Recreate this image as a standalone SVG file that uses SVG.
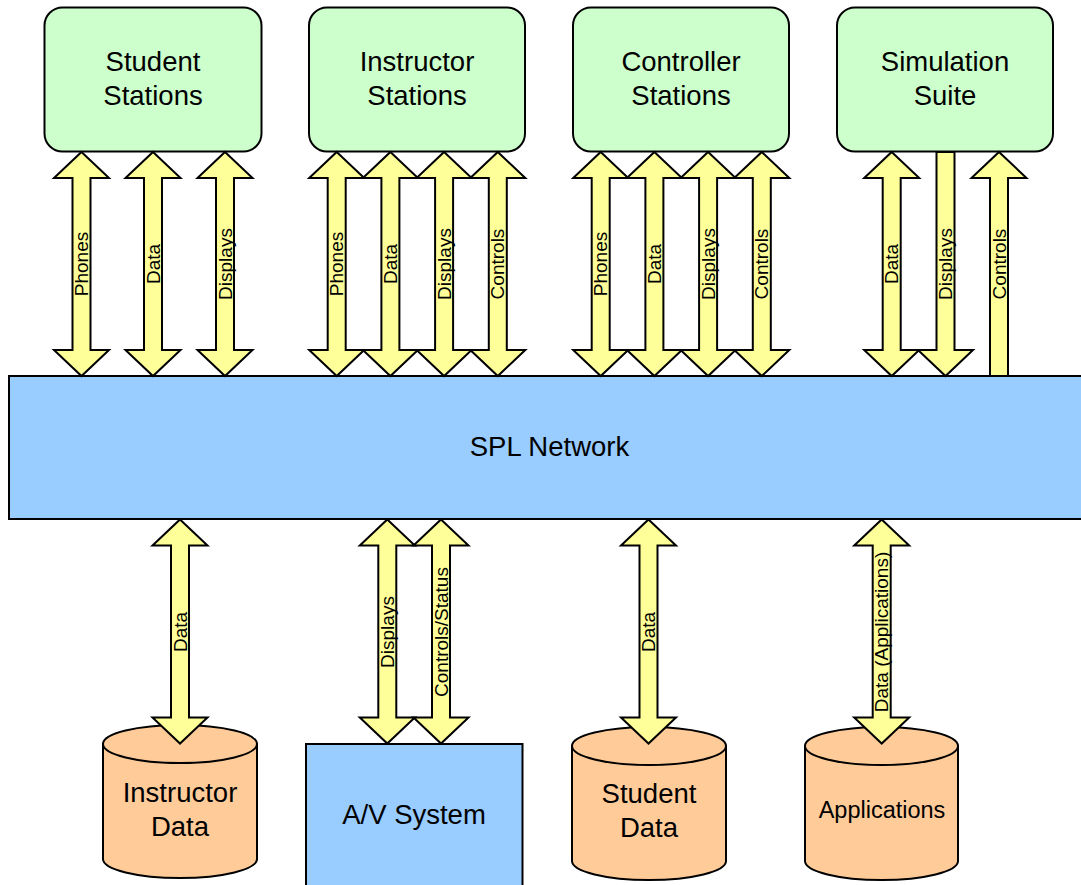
<svg xmlns="http://www.w3.org/2000/svg" xmlns:xlink="http://www.w3.org/1999/xlink" width="1081" height="885" viewBox="0 0 1081 885">
  <style>
    .station { fill: #CCFFCC; stroke: #000; stroke-width: 2; }
    .net { fill: #99CCFF; stroke: #000; stroke-width: 2; }
    .db { fill: #FFCC99; stroke: #000; stroke-width: 2; }
    .arrow { fill: #FFFF99; stroke: #000; stroke-width: 2; stroke-linejoin: miter; }
    .big { font-family: "Liberation Sans", Arial, sans-serif; font-size: 27.5px; text-anchor: middle; fill: #000; }
    .mid { font-family: "Liberation Sans", Arial, sans-serif; font-size: 23.5px; text-anchor: middle; fill: #000; }
    .lbl { font-family: "Liberation Sans", Arial, sans-serif; font-size: 19px; text-anchor: middle; fill: #000; }
  </style>
  <defs>
    <path id="dbl" d="M0,0 L27.5,26 L9,26 L9,198 L27.5,198 L0,224 L-27.5,198 L-9,198 L-9,26 L-27.5,26 Z"/>
    <path id="down" d="M-9,0 L9,0 L9,198 L27.5,198 L0,224 L-27.5,198 L-9,198 Z"/>
    <path id="up" d="M0,0 L27.5,26 L9,26 L9,224 L-9,224 L-9,26 L-27.5,26 Z"/>
  </defs>
  <rect width="1081" height="885" fill="#fff"/>

  <g id="student-stations">
    <rect class="station" x="44.5" y="7.5" width="217" height="144" rx="18"/>
    <text class="big" x="153" y="71">Student</text>
    <text class="big" x="153" y="104.5">Stations</text>
  </g>
  <g id="instructor-stations">
    <rect class="station" x="309" y="7.5" width="216" height="144" rx="18"/>
    <text class="big" x="417" y="71">Instructor</text>
    <text class="big" x="417" y="104.5">Stations</text>
  </g>
  <g id="controller-stations">
    <rect class="station" x="573" y="7.5" width="216" height="144" rx="18"/>
    <text class="big" x="681" y="71">Controller</text>
    <text class="big" x="681" y="104.5">Stations</text>
  </g>
  <g id="simulation-suite">
    <rect class="station" x="837" y="7.5" width="216" height="144" rx="18"/>
    <text class="big" x="945" y="71">Simulation</text>
    <text class="big" x="945" y="104.5">Suite</text>
  </g>

  <g id="spl-network">
    <rect class="net" x="9" y="376" width="1085" height="143"/>
    <text class="big" x="549.5" y="456">SPL Network</text>
  </g>

  <g id="instructor-data">
    <path class="db" d="M103,744 V859 A77,19 0 0 0 257,859 V744"/>
    <ellipse class="db" cx="180" cy="744" rx="77" ry="19"/>
    <text class="big" x="180" y="802">Instructor</text>
    <text class="big" x="180" y="836">Data</text>
  </g>
  <g id="av-system">
    <rect class="net" x="306" y="744" width="216.5" height="160"/>
    <text class="big" x="414" y="824">A/V System</text>
  </g>
  <g id="student-data">
    <path class="db" d="M572,746 V861 A77,19 0 0 0 726,861 V746"/>
    <ellipse class="db" cx="649" cy="746" rx="77" ry="19"/>
    <text class="big" x="649" y="803">Student</text>
    <text class="big" x="649" y="837">Data</text>
  </g>
  <g id="applications">
    <path class="db" d="M805,746 V861 A76.5,19 0 0 0 958,861 V746"/>
    <ellipse class="db" cx="881.5" cy="746" rx="76.5" ry="19"/>
    <text class="mid" x="882" y="818">Applications</text>
  </g>

  <g id="connectors">
    <!-- Student Stations -->
    <use href="#dbl" xlink:href="#dbl" class="arrow" transform="translate(81.5,152)"/>
    <use href="#dbl" xlink:href="#dbl" class="arrow" transform="translate(153,152)"/>
    <use href="#dbl" xlink:href="#dbl" class="arrow" transform="translate(225,152)"/>
    <!-- Instructor Stations -->
    <use href="#dbl" xlink:href="#dbl" class="arrow" transform="translate(336.7,152)"/>
    <use href="#dbl" xlink:href="#dbl" class="arrow" transform="translate(390.4,152)"/>
    <use href="#dbl" xlink:href="#dbl" class="arrow" transform="translate(444.1,152)"/>
    <use href="#dbl" xlink:href="#dbl" class="arrow" transform="translate(497.8,152)"/>
    <!-- Controller Stations -->
    <use href="#dbl" xlink:href="#dbl" class="arrow" transform="translate(600.7,152)"/>
    <use href="#dbl" xlink:href="#dbl" class="arrow" transform="translate(654.4,152)"/>
    <use href="#dbl" xlink:href="#dbl" class="arrow" transform="translate(708.1,152)"/>
    <use href="#dbl" xlink:href="#dbl" class="arrow" transform="translate(761.8,152)"/>
    <!-- Simulation Suite -->
    <use href="#dbl" xlink:href="#dbl" class="arrow" transform="translate(891.7,152)"/>
    <use href="#down" xlink:href="#down" class="arrow" transform="translate(945.5,152)"/>
    <use href="#up" xlink:href="#up" class="arrow" transform="translate(999,152)"/>
    <!-- Bottom -->
    <use href="#dbl" xlink:href="#dbl" class="arrow" transform="translate(180,519.5)"/>
    <use href="#dbl" xlink:href="#dbl" class="arrow" transform="translate(387.3,519.5)"/>
    <use href="#dbl" xlink:href="#dbl" class="arrow" transform="translate(441,519.5)"/>
    <use href="#dbl" xlink:href="#dbl" class="arrow" transform="translate(648.5,519.5)"/>
    <use href="#dbl" xlink:href="#dbl" class="arrow" transform="translate(881.7,519.5)"/>

    <!-- labels -->
    <text class="lbl" transform="translate(88,264) rotate(-90)">Phones</text>
    <text class="lbl" transform="translate(159.5,264) rotate(-90)">Data</text>
    <text class="lbl" transform="translate(231.5,264) rotate(-90)">Displays</text>

    <text class="lbl" transform="translate(343.2,264) rotate(-90)">Phones</text>
    <text class="lbl" transform="translate(396.9,264) rotate(-90)">Data</text>
    <text class="lbl" transform="translate(450.6,264) rotate(-90)">Displays</text>
    <text class="lbl" transform="translate(504.3,264) rotate(-90)">Controls</text>

    <text class="lbl" transform="translate(607.2,264) rotate(-90)">Phones</text>
    <text class="lbl" transform="translate(660.9,264) rotate(-90)">Data</text>
    <text class="lbl" transform="translate(714.6,264) rotate(-90)">Displays</text>
    <text class="lbl" transform="translate(768.3,264) rotate(-90)">Controls</text>

    <text class="lbl" transform="translate(898.2,264) rotate(-90)">Data</text>
    <text class="lbl" transform="translate(952,264) rotate(-90)">Displays</text>
    <text class="lbl" transform="translate(1005.5,264) rotate(-90)">Controls</text>

    <text class="lbl" transform="translate(186.5,632) rotate(-90)">Data</text>
    <text class="lbl" transform="translate(393.8,632) rotate(-90)">Displays</text>
    <text class="lbl" transform="translate(447.5,632) rotate(-90)">Controls/Status</text>
    <text class="lbl" transform="translate(655,632) rotate(-90)">Data</text>
    <text class="lbl" transform="translate(888.2,632) rotate(-90)">Data (Applications)</text>
  </g>
</svg>
